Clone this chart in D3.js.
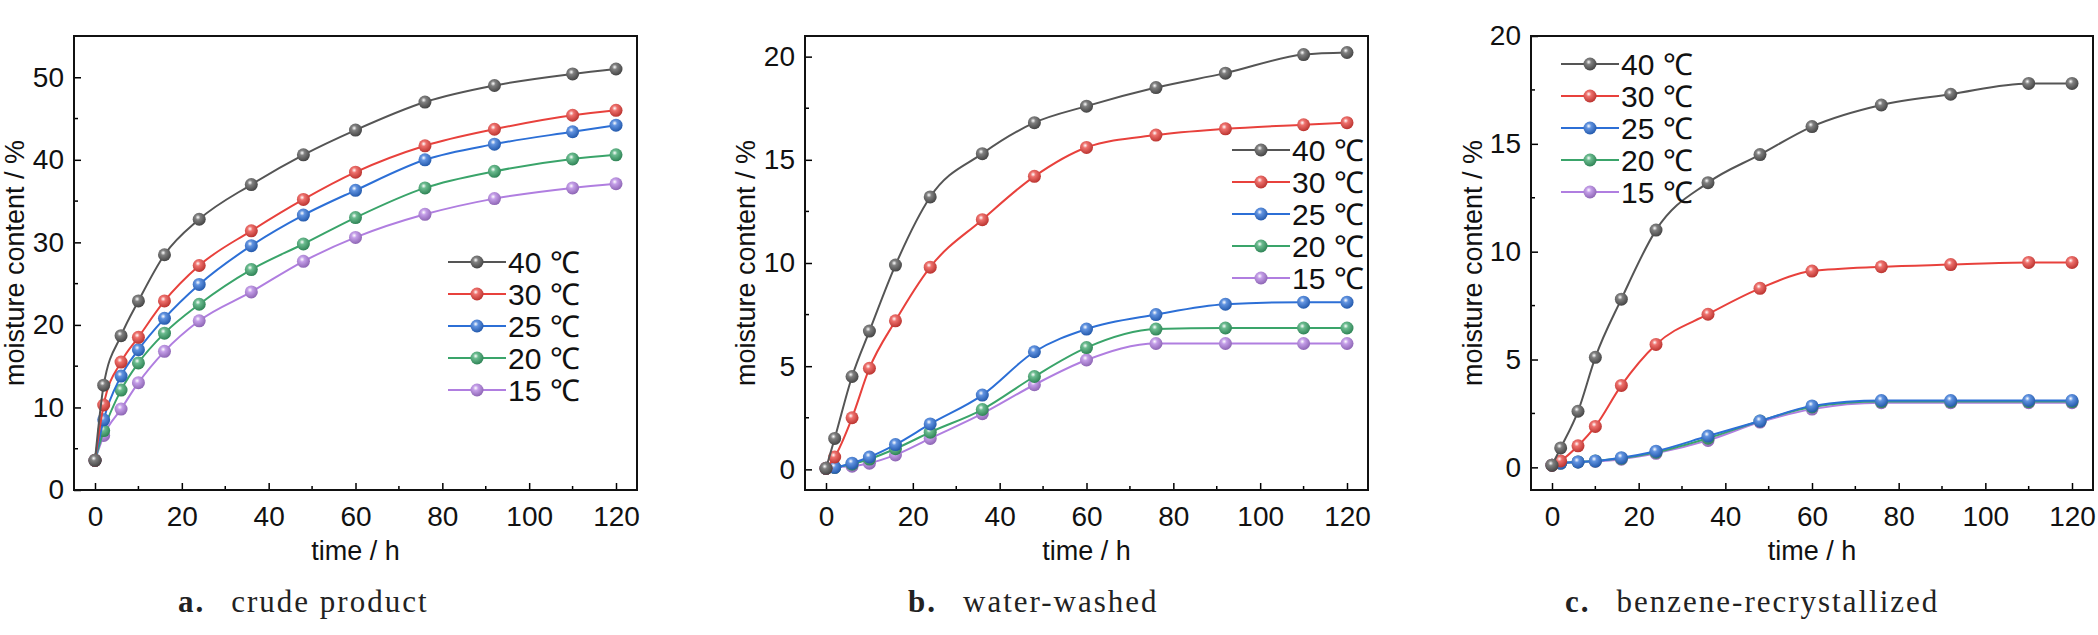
<!DOCTYPE html>
<html>
<head>
<script src="https://cdn.jsdelivr.net/npm/d3@7"></script>
<style>
  body { margin: 0; background: #fff; }
  .tick text { font-family: "Liberation Sans Narrow", "Liberation Sans", sans-serif; }
</style>
</head>
<body>
<svg id="chart" width="2098" height="635"></svg>
<script>
var times = [0, 2, 6, 10, 16, 24, 36, 48, 60, 76, 92, 110, 120];
var temps = ['40 ℃', '30 ℃', '25 ℃', '20 ℃', '15 ℃'];
var colors = ['#555555', '#e8413c', '#2c6fd6', '#3aa46a', '#b07ee0'];

var crude40 = [3.6, 12.7, 18.7, 22.9, 28.5, 32.8, 37.0, 40.6, 43.6, 47.0, 49.0, 50.4, 51.0];
var crude30 = [3.6, 10.3, 15.5, 18.5, 22.9, 27.2, 31.4, 35.2, 38.5, 41.7, 43.7, 45.4, 46.0];
var crude25 = [3.6, 8.5, 13.8, 17.0, 20.8, 24.9, 29.6, 33.3, 36.3, 40.0, 41.9, 43.4, 44.2];
var crude20 = [3.6, 7.2, 12.1, 15.4, 19.0, 22.5, 26.7, 29.8, 33.0, 36.6, 38.6, 40.1, 40.6];
var crude15 = [3.6, 6.6, 9.8, 13.0, 16.8, 20.5, 24.0, 27.7, 30.6, 33.4, 35.3, 36.6, 37.1];

var washed40 = [0.05, 1.5, 4.5, 6.7, 9.9, 13.2, 15.3, 16.8, 17.6, 18.5, 19.2, 20.1, 20.2];
var washed30 = [0.05, 0.6, 2.5, 4.9, 7.2, 9.8, 12.1, 14.2, 15.6, 16.2, 16.5, 16.7, 16.8];
var washed25 = [0.05, 0.1, 0.3, 0.6, 1.2, 2.2, 3.6, 5.7, 6.8, 7.5, 8.0, 8.1, 8.1];
var washed20 = [0.05, 0.1, 0.25, 0.5, 1.0, 1.8, 2.9, 4.5, 5.9, 6.8, 6.85, 6.85, 6.85];
var washed15 = [0.05, 0.1, 0.15, 0.3, 0.7, 1.5, 2.7, 4.1, 5.3, 6.1, 6.1, 6.1, 6.1];

var benz40 = [0.1, 0.9, 2.6, 5.1, 7.8, 11.0, 13.2, 14.5, 15.8, 16.8, 17.3, 17.8, 17.8];
var benz30 = [0.1, 0.3, 1.0, 1.9, 3.8, 5.7, 7.1, 8.3, 9.1, 9.3, 9.4, 9.5, 9.5];
var benz25 = [0.1, 0.2, 0.25, 0.3, 0.45, 0.75, 1.45, 2.15, 2.85, 3.1, 3.1, 3.1, 3.1];
var benz20 = [0.1, 0.2, 0.25, 0.3, 0.42, 0.7, 1.35, 2.15, 2.8, 3.05, 3.05, 3.05, 3.05];
var benz15 = [0.1, 0.2, 0.25, 0.28, 0.38, 0.65, 1.25, 2.1, 2.7, 3.0, 3.0, 3.0, 3.0];

var xTicks = [0, 20, 40, 60, 80, 100, 120];
var panels = [
  { left: 74, right: 637, yDomain: [0, 55], yTicks: [0, 10, 20, 30, 40, 50], yMinor: 5,
    series: [crude40, crude30, crude25, crude20, crude15], letter: 'a.', caption: 'crude product',
    legend: { x: 448, y: 262 }, capX: 178, ytitleX: 4 },
  { left: 805, right: 1368, yDomain: [-1, 21], yTicks: [0, 5, 10, 15, 20], yMinor: 2.5,
    series: [washed40, washed30, washed25, washed20, washed15], letter: 'b.', caption: 'water-washed',
    legend: { x: 1232, y: 150 }, capX: 908, ytitleX: 735 },
  { left: 1531, right: 2093, yDomain: [-1.05, 20], yTicks: [0, 5, 10, 15, 20], yMinor: 2.5,
    series: [benz40, benz30, benz25, benz20, benz15], letter: 'c.', caption: 'benzene-recrystallized',
    legend: { x: 1561, y: 64 }, capX: 1565, ytitleX: 1462 }
];
var plotTop = 36, plotBottom = 490;

var svg = d3.select('#chart');
var defs = svg.append('defs');
colors.forEach(function (c, i) {
  var g = defs.append('radialGradient').attr('id', 'ball' + i)
    .attr('cx', '40%').attr('cy', '35%').attr('r', '65%');
  g.append('stop').attr('offset', '0%').attr('stop-color', '#ffffff');
  g.append('stop').attr('offset', '30%').attr('stop-color', d3.interpolateRgb(c, '#fff')(0.25));
  g.append('stop').attr('offset', '100%').attr('stop-color', d3.color(c).darker(0.6));
});

var sansFont = '"Liberation Sans Narrow", "Liberation Sans", sans-serif';

panels.forEach(function (p) {
  var g = svg.append('g');
  var x = d3.scaleLinear().domain([0, 120]).range([p.left + 21, p.right - 21]);
  var y = d3.scaleLinear().domain(p.yDomain).range([plotBottom, plotTop]);

  // minor ticks
  var xMinor = d3.range(10, 120, 20);
  g.selectAll('.xm').data(xMinor).enter().append('line')
    .attr('x1', x).attr('x2', x).attr('y1', plotBottom).attr('y2', plotBottom - 4)
    .attr('stroke', '#000').attr('stroke-width', 1.5);
  var yMinor = d3.range(p.yMinor, p.yDomain[1], p.yMinor * 2);
  g.selectAll('.ym').data(yMinor).enter().append('line')
    .attr('x1', p.left).attr('x2', p.left + 4).attr('y1', y).attr('y2', y)
    .attr('stroke', '#000').attr('stroke-width', 1.5);

  var xa = g.append('g').attr('transform', 'translate(0,' + plotBottom + ')')
    .call(d3.axisBottom(x).tickValues(xTicks).tickSizeInner(-7).tickSizeOuter(0).tickPadding(12));
  var ya = g.append('g').attr('transform', 'translate(' + p.left + ',0)')
    .call(d3.axisLeft(y).tickValues(p.yTicks).tickSizeInner(-7).tickSizeOuter(0).tickPadding(10));
  [xa, ya].forEach(function (a) {
    a.select('.domain').remove();
    a.selectAll('line').attr('stroke-width', 1.5);
    a.selectAll('text').attr('font-size', 28).attr('fill', '#111');
  });
  xa.selectAll('text').attr('dy', '0.85em');

  g.append('rect').attr('x', p.left).attr('y', plotTop)
    .attr('width', p.right - p.left).attr('height', plotBottom - plotTop)
    .attr('fill', 'none').attr('stroke', '#111').attr('stroke-width', 2);

  var line = d3.line().x(function (d) { return x(d[0]); }).y(function (d) { return y(d[1]); })
    .curve(d3.curveMonotoneX);

  p.series.slice().reverse().forEach(function (s, ri) {
    var i = p.series.length - 1 - ri;
    var pts = times.map(function (t, k) { return [t, s[k]]; });
    g.append('path').datum(pts).attr('d', line).attr('fill', 'none')
      .attr('stroke', colors[i]).attr('stroke-width', 2);
    g.selectAll('.m' + i).data(pts).enter().append('circle')
      .attr('cx', function (d) { return x(d[0]); }).attr('cy', function (d) { return y(d[1]); })
      .attr('r', 6.5).attr('fill', 'url(#ball' + i + ')');
  });

  // legend
  temps.forEach(function (t, i) {
    var ly = p.legend.y + i * 32;
    g.append('line').attr('x1', p.legend.x).attr('x2', p.legend.x + 58)
      .attr('y1', ly).attr('y2', ly).attr('stroke', colors[i]).attr('stroke-width', 2);
    g.append('circle').attr('cx', p.legend.x + 29).attr('cy', ly).attr('r', 6.5)
      .attr('fill', 'url(#ball' + i + ')');
    g.append('text').attr('x', p.legend.x + 60).attr('y', ly + 11)
      .attr('font-family', sansFont)
      .attr('font-size', 30).attr('fill', '#111').text(t);
  });

  g.append('text').attr('x', (p.left + p.right) / 2).attr('y', 560)
    .attr('text-anchor', 'middle').attr('font-family', sansFont)
    .attr('font-size', 27).attr('fill', '#111').text('time / h');

  g.append('text').attr('transform', 'translate(' + p.ytitleX + ',' + ((plotTop + plotBottom) / 2) + ') rotate(-90)')
    .attr('text-anchor', 'middle').attr('dy', '0.75em').attr('font-family', sansFont)
    .attr('font-size', 27).attr('fill', '#111').text('moisture content / %');

  var cap = g.append('text').attr('x', p.capX).attr('y', 612)
    .attr('font-family', '"Liberation Serif", serif').attr('font-size', 31)
    .attr('letter-spacing', 2).attr('fill', '#222');
  cap.append('tspan').attr('font-weight', 'bold').text(p.letter);
  cap.append('tspan').attr('dx', 26).text(p.caption);
});
</script>
</body>
</html>
